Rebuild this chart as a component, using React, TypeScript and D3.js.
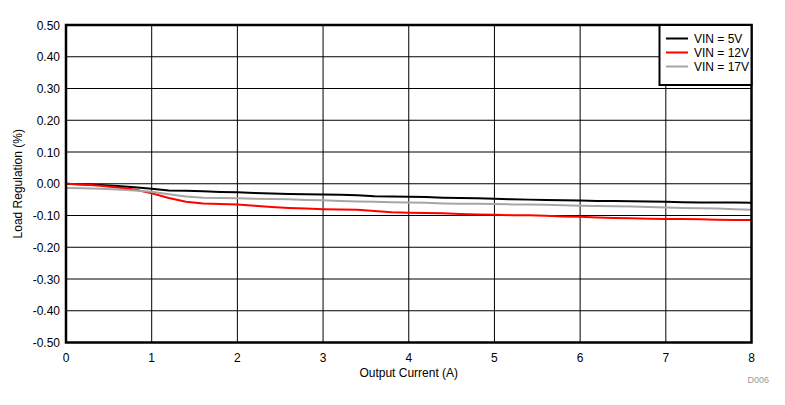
import React from "react";
import * as d3 from "d3";

const currents = [0,0.2,0.4,0.6,0.8,1.0,1.2,1.4,1.6,1.8,2.0,2.2,2.4,2.6,2.8,3.0,3.2,3.4,3.6,3.8,4.0,4.2,4.4,4.6,4.8,5.0,5.2,5.4,5.6,5.8,6.0,6.2,6.4,6.6,6.8,7.0,7.2,7.4,7.6,7.8,8.0];
const vin5 = [0,-0.002,-0.004,-0.007,-0.011,-0.016,-0.021,-0.022,-0.024,-0.026,-0.027,-0.029,-0.031,-0.032,-0.033,-0.034,-0.035,-0.036,-0.039,-0.040,-0.041,-0.042,-0.044,-0.045,-0.046,-0.047,-0.049,-0.050,-0.051,-0.052,-0.053,-0.054,-0.054,-0.055,-0.056,-0.057,-0.058,-0.059,-0.059,-0.059,-0.060];
const vin12 = [0,-0.002,-0.006,-0.012,-0.018,-0.030,-0.045,-0.057,-0.062,-0.064,-0.065,-0.069,-0.073,-0.076,-0.078,-0.080,-0.081,-0.082,-0.086,-0.090,-0.091,-0.092,-0.093,-0.095,-0.097,-0.098,-0.099,-0.099,-0.101,-0.103,-0.104,-0.106,-0.108,-0.109,-0.110,-0.111,-0.111,-0.112,-0.113,-0.114,-0.114];
const vin17 = [-0.013,-0.014,-0.016,-0.018,-0.021,-0.025,-0.033,-0.040,-0.044,-0.045,-0.046,-0.047,-0.048,-0.049,-0.051,-0.052,-0.054,-0.056,-0.057,-0.058,-0.059,-0.060,-0.062,-0.063,-0.063,-0.064,-0.065,-0.065,-0.066,-0.068,-0.069,-0.070,-0.071,-0.072,-0.073,-0.075,-0.076,-0.077,-0.078,-0.080,-0.082];

const seriesNames = ["VIN = 5V", "VIN = 12V", "VIN = 17V"];
const seriesColors = ["#000000", "#ff0000", "#a6a6a6"];
const xTicks = [0,1,2,3,4,5,6,7,8];
const yTicks = [0.5,0.4,0.3,0.2,0.1,0,-0.1,-0.2,-0.3,-0.4,-0.5];

export default function App() {
  const W = 785, H = 405;
  const left = 66, right = 751.5, top = 25, bottom = 342.5;
  const x = d3.scaleLinear().domain([0, 8]).range([left, right]);
  const y = d3.scaleLinear().domain([-0.5, 0.5]).range([bottom, top]);
  const allSeries = [vin5, vin12, vin17];
  const line = d3.line<number>().x((_, i) => x(currents[i])).y((d) => y(d));
  const font = "'Liberation Sans', Arial, sans-serif";
  return (
    <svg width={W} height={H} style={{ position: "absolute", left: 0, top: 0 }} fontFamily={font}>
      <rect width={W} height={H} fill="#fff" />
      {xTicks.map((t) => (
        <line key={"gx" + t} x1={x(t)} x2={x(t)} y1={top} y2={bottom} stroke="#000" strokeWidth={1} />
      ))}
      {yTicks.map((t) => (
        <line key={"gy" + t} x1={left} x2={right} y1={y(t)} y2={y(t)} stroke="#000" strokeWidth={1} />
      ))}
      {allSeries.map((s, i) => (
        <path key={"s" + i} d={line(s) || ""} fill="none" stroke={seriesColors[i]} strokeWidth={2} />
      ))}
      {[vin17, vin5, vin12].length && null}
      <rect x={left} y={top} width={right - left} height={bottom - top} fill="none" stroke="#000" strokeWidth={2.5} />
      {yTicks.map((t) => (
        <text key={"ty" + t} x={60} y={y(t) + 4.5} textAnchor="end" fontSize={12} fill="#000">
          {d3.format(".2f")(t).replace("−", "-")}
        </text>
      ))}
      {xTicks.map((t) => (
        <text key={"tx" + t} x={x(t)} y={362} textAnchor="middle" fontSize={12} fill="#000">
          {t}
        </text>
      ))}
      <text x={(left + right) / 2} y={377} textAnchor="middle" fontSize={12} fill="#000">Output Current (A)</text>
      <text transform={`translate(22,${(top + bottom) / 2}) rotate(-90)`} textAnchor="middle" fontSize={12} fill="#000">Load Regulation (%)</text>
      <text x={769} y={383} textAnchor="end" fontSize={9} fill="#999">D006</text>
      <rect x={659.5} y={25} width={92} height={60} fill="#fff" stroke="#000" strokeWidth={2} />
      {seriesNames.map((n, i) => (
        <g key={"lg" + i}>
          <line x1={666} x2={688} y1={38.5 + i * 14} y2={38.5 + i * 14} stroke={seriesColors[i]} strokeWidth={2} />
          <text x={694} y={42.5 + i * 14} fontSize={12} fill="#000">{n}</text>
        </g>
      ))}
    </svg>
  );
}
